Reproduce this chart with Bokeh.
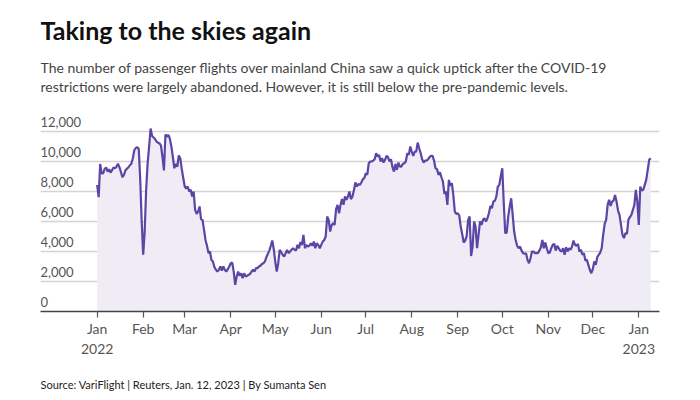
import pandas as pd
from bokeh.plotting import figure
from bokeh.models import Label, Grid, FixedTicker, ColumnDataSource, Range1d, Title
from bokeh.embed import file_html
from bokeh.resources import INLINE

# ---------------- data ----------------
start_date = "2022-01-01"   # daily series
flights = [
    8440, 7620, 9830, 9210, 9200, 9500, 9600, 9330, 9480, 9260,
    9420, 9600, 9550, 9650, 9850, 9620, 9300, 8950, 9100, 9400,
    9520, 9600, 9750, 9850, 10200, 10750, 10900, 10950, 10850, 8800,
    6000, 3780, 5300, 8100, 9900, 11000, 12200, 11700, 11600, 11500,
    11330, 11250, 11200, 11050, 10300, 9400, 11800, 11650, 11770, 11500,
    11000, 10300, 9550, 9850, 9650, 10400, 10200, 9500, 8900, 8330,
    8200, 8330, 8000, 8110, 7670, 8000, 6770, 6500, 6660, 7000,
    6150, 6100, 5440, 4770, 4380, 3890, 4000, 3440, 3330, 2960,
    2780, 2660, 2780, 3000, 2730, 3000, 2780, 2660, 2820, 3000,
    3220, 3260, 2660, 1780, 2330, 2660, 2380, 2550, 2220, 2550,
    2330, 2380, 2440, 2500, 2660, 2780, 2660, 2890, 2890, 3000,
    3050, 3170, 3220, 3330, 3620, 3840, 4060, 4380, 4730, 4150,
    3330, 2660, 3220, 4110, 3950, 3780, 3660, 3890, 4110, 3890,
    4000, 4110, 4220, 4110, 4060, 4440, 4220, 4640, 4440, 5110,
    4220, 4440, 4330, 4380, 4550, 4380, 4660, 4220, 4550, 4440,
    4220, 4440, 4660, 4770, 5000, 6330, 6110, 5330, 5770, 5890,
    5770, 6820, 7110, 6550, 7110, 7490, 7110, 7670, 7440, 7670,
    8000, 7490, 7670, 8060, 8600, 8330, 8500, 8440, 8600, 8820,
    8880, 9220, 9110, 9880, 10000, 10000, 10060, 10150, 10550, 10330,
    10440, 10000, 10220, 9930, 10110, 10380, 10290, 10000, 10150, 9620,
    9330, 9840, 9440, 9930, 9660, 9660, 9840, 9880, 10000, 10550,
    10440, 11000, 10660, 10380, 10660, 10660, 11260, 10880, 10550, 10150,
    9930, 10060, 10060, 10150, 10290, 10380, 10380, 10060, 9550, 9490,
    9110, 9270, 8950, 8660, 7840, 8000, 7110, 8770, 8380, 8550,
    7770, 6660, 6500, 6550, 6400, 5660, 5150, 4600, 4730, 5040,
    6110, 6330, 3700, 4330, 6000, 5660, 4220, 5110, 6000, 5770,
    6110, 6220, 6000, 6220, 6550, 7040, 6880, 7330, 7380, 7660,
    8330, 8440, 9040, 9550, 7220, 5220, 5260, 6330, 7000, 7550,
    6440, 5330, 4770, 4380, 4220, 4330, 4060, 3890, 3840, 3890,
    3440, 3220, 3550, 4000, 4000, 3890, 3890, 3890, 4060, 4280,
    4770, 4220, 4600, 4220, 3890, 3930, 4220, 4440, 4510, 4060,
    4380, 4220, 4060, 4000, 4220, 3780, 4280, 4000, 4220, 4110,
    4330, 4730, 4440, 4380, 4510, 4000, 4110, 3780, 3890, 3400,
    3440, 3110, 2780, 2550, 2820, 3330, 3110, 3620, 3780, 3930,
    4220, 5110, 5840, 6110, 7110, 7440, 7040, 7330, 7400, 7770,
    7330, 6730, 6440, 5770, 5110, 4890, 5220, 5180, 6110, 6290,
    6440, 6770, 7110, 8110, 7330, 5770, 8330, 8060, 8110, 8440,
    8770, 9440, 10110, 10220,
]
y_ticks = [0, 2000, 4000, 6000, 8000, 10000, 12000]
y_tick_labels = ["0", "2,000", "4,000", "6,000", "8,000", "10,000", "12,000"]
month_ticks = ["2022-01-01", "2022-02-01", "2022-03-01", "2022-04-01", "2022-05-01",
               "2022-06-01", "2022-07-01", "2022-08-01", "2022-09-01", "2022-10-01",
               "2022-11-01", "2022-12-01", "2023-01-01"]
month_labels = ["Jan\n2022", "Feb", "Mar", "Apr", "May", "Jun", "Jul", "Aug",
                "Sep", "Oct", "Nov", "Dec", "Jan\n2023"]

title_text = "Taking to the skies again"
subtitle_lines = [
    "The number of passenger flights over mainland China saw a quick uptick after the COVID-19",
    "restrictions were largely abandoned. However, it is still below the pre-pandemic levels.",
]
source_text = "Source: VariFlight | Reuters, Jan. 12, 2023 | By Sumanta Sen"

# ---------------- styling ----------------
FONT = "Lato"
LINE_COLOR = "#5b45a5"
FILL_COLOR = "#efecf6"
GRID_COLOR = "#d3d3d3"
PX_PER_UNIT = 0.01505          # vertical scale of the reference
FRAME_H = 312                  # frame spans canvas rows 0..312

dates = pd.date_range(start_date, periods=len(flights), freq="D")
src = ColumnDataSource(dict(date=dates, flights=flights, base=[0] * len(flights)))

x_start = pd.Timestamp("2022-01-01") - pd.Timedelta(days=38.2)
x_end = pd.Timestamp("2023-01-01") + pd.Timedelta(days=13.95)

p = figure(width=700, height=400, x_axis_type="datetime", y_axis_location=None,
           x_range=Range1d(x_start, x_end), y_range=Range1d(0, FRAME_H / PX_PER_UNIT),
           output_backend="svg", toolbar_location=None,
           min_border_left=40, min_border_right=41, min_border_top=0, min_border_bottom=88)
p.outline_line_color = None
p.background_fill_color = None
p.border_fill_color = "white"
# drop the default grids, keep only our own horizontal gridlines
p.center = [r for r in p.center if not isinstance(r, Grid)]

grid = Grid(dimension=1, ticker=FixedTicker(ticks=y_ticks[1:]),
            grid_line_color=GRID_COLOR, grid_line_width=1.5)
p.add_layout(grid)

p.varea(x="date", y1="base", y2="flights", source=src, fill_color=FILL_COLOR)
p.line(x="date", y="flights", source=src, line_color=LINE_COLOR, line_width=2.2)

tick_ms = [int(pd.Timestamp(t).value // 10**6) for t in month_ticks]
ax = p.xaxis[0]
ax.ticker = FixedTicker(ticks=tick_ms)
ax.major_label_overrides = {t: lab for t, lab in zip(tick_ms, month_labels)}
ax.minor_tick_line_color = None
ax.major_tick_in = 0
ax.major_tick_out = 6
ax.major_tick_line_color = "#555555"
ax.major_tick_line_width = 1.2
ax.axis_line_color = "#444444"
ax.axis_line_width = 1.5
ax.major_label_text_font = FONT
ax.major_label_text_font_size = "14px"
ax.major_label_text_color = "#555555"
ax.major_label_standoff = 2
# a tiny blank axis label adds a little room between the ticks and the source line
ax.axis_label = " "
ax.axis_label_text_font_size = "2px"
ax.axis_label_standoff = 1

# y tick labels sit just above their gridlines, left aligned
lift = 10 / PX_PER_UNIT
for v, lab in zip(y_ticks, y_tick_labels):
    p.add_layout(Label(x=0, y=v + lift, x_units="screen", y_units="data", text=lab,
                       text_font=FONT, text_font_size="13px", text_color="#555555",
                       text_align="left", text_baseline="alphabetic"))

p.add_layout(Label(x=0, y=FRAME_H - 30, x_units="screen", y_units="screen", text=title_text,
                   text_font=FONT, text_font_size="25px", text_font_style="bold",
                   text_color="#111111", text_align="left", text_baseline="middle"))
for i, line in enumerate(subtitle_lines):
    p.add_layout(Label(x=0, y=FRAME_H - 68 - 19 * i, x_units="screen", y_units="screen",
                       text=line, text_font=FONT, text_font_size="14px", text_color="#444444",
                       text_align="left", text_baseline="middle"))

p.add_layout(Title(text=source_text, align="left", text_font=FONT, text_font_size="11px",
                   text_font_style="normal", text_color="#222222", standoff=19), "below")

open("out.html", "w").write(file_html(p, INLINE))
